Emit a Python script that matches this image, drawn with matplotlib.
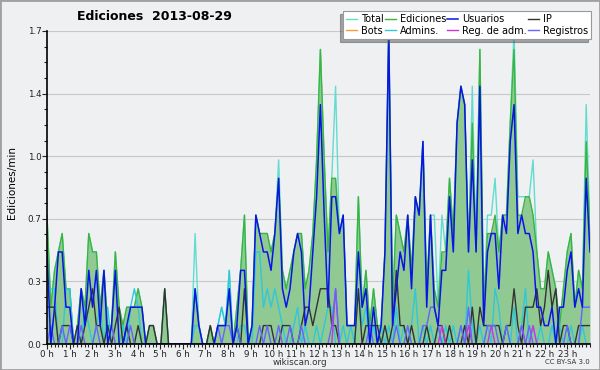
import numpy as np
import matplotlib.pyplot as plt
from matplotlib.patches import Rectangle
from matplotlib.ticker import MultipleLocator

# edits per 10-minute slot, 144 slots (one row per 6 hours)
total = [7,2,4,5,6,3, 3,0,1,3,2,6, 5,5,2,4,1,1, 5,2,1,2,2,2, 3,2,0,1,1,0, 0,3,0,0,0,0,
         0,0,0,6,1,0, 0,1,0,1,2,1, 4,0,2,4,7,0, 1,7,6,6,6,5, 6,10,4,3,4,5, 6,6,3,4,6,10,
         16,10,5,9,14,6, 7,1,1,1,8,2, 4,1,3,1,1,5, 17,2,7,6,5,7, 4,8,7,11,3,7, 7,2,7,5,9,6,
         12,14,13,5,14,5, 16,2,7,7,9,5, 7,7,12,17,8,8, 8,8,10,5,3,3, 5,4,3,1,3,5, 6,2,4,3,13,6]
ediciones = [7,2,4,5,6,3, 3,0,1,3,2,6, 5,5,2,4,1,1, 5,2,1,2,2,2, 3,2,0,1,1,0, 0,3,0,0,0,0,
             0,0,0,3,1,0, 0,1,0,1,1,1, 3,0,2,4,7,0, 1,7,6,6,6,5, 6,9,4,3,4,5, 6,6,3,4,6,10,
             16,10,5,9,9,6, 7,1,1,1,8,2, 4,1,3,1,1,5, 17,2,7,6,5,7, 4,8,7,11,3,7, 3,2,5,5,9,6,
             12,14,13,5,12,5, 16,2,6,6,7,5, 7,7,12,16,7,7, 8,8,7,5,3,3, 5,4,3,1,3,5, 6,2,4,3,11,6]
usuarios = [5,0,2,5,5,2, 2,0,0,3,1,4, 2,4,1,4,0,1, 4,0,0,1,2,2, 2,2,0,0,0,0, 0,0,0,0,0,0,
            0,0,0,3,1,0, 0,0,0,1,1,1, 3,0,1,4,4,0, 1,7,6,5,5,4, 6,9,3,2,3,5, 6,5,1,2,5,8,
            13,7,2,8,8,6, 7,1,1,1,5,2, 3,0,2,0,1,5, 17,1,3,5,4,7, 3,8,7,11,2,7, 2,1,4,4,8,5,
            12,14,13,5,10,5, 14,1,5,6,6,3, 7,6,11,13,6,7, 6,6,5,2,2,1, 1,2,0,2,2,4, 5,2,3,2,9,5]
ip = [2,2,2,0,1,1, 1,0,1,0,1,2, 3,1,1,0,1,0, 1,2,0,1,0,0, 1,0,0,1,1,0, 0,3,0,0,0,0,
      0,0,0,0,0,0, 0,1,0,0,0,0, 0,0,1,0,3,0, 0,0,0,1,1,1, 0,0,1,1,1,0, 0,1,2,2,1,2,
      3,3,3,1,1,0, 0,0,0,0,3,0, 1,1,1,1,0,1, 0,1,4,1,1,0, 1,0,0,0,1,0, 0,1,1,0,1,0,
      0,0,1,0,2,0, 2,1,1,1,1,1, 0,1,1,3,1,0, 2,2,2,3,1,2, 4,2,3,0,1,1, 0,0,1,1,1,1]
bots = [0] * 144
admins = [3,3,3,0,0,3, 3,0,0,0,2,1, 0,1,2,0,2,0, 0,0,1,0,2,3, 2,0,0,0,0,0, 0,0,0,0,0,0,
          0,0,0,1,1,0, 0,0,0,1,2,1, 4,0,0,1,1,0, 0,5,5,2,3,2, 3,2,1,0,0,1, 2,0,1,0,0,1,
          0,1,2,2,0,0, 1,0,1,0,3,1, 2,0,1,0,1,0, 1,0,2,0,1,0, 1,3,0,1,0,1, 0,1,0,1,0,1,
          0,1,0,4,1,0, 1,0,1,0,3,2, 0,1,0,2,0,1, 3,0,1,0,1,0, 0,1,0,1,0,0, 1,0,0,1,0,0]
reg_adm = [0,0,0,0,0,0, 0,0,0,0,0,0, 0,0,0,0,0,0, 0,0,0,0,0,0, 0,0,0,0,0,0, 0,0,0,0,0,0,
           0,0,0,0,0,0, 0,0,0,0,0,0, 0,0,0,0,0,0, 0,0,0,0,0,0, 0,0,0,0,0,0, 0,0,0,0,0,0,
           0,0,0,0,3,0, 0,0,0,0,0,0, 0,0,0,0,0,0, 0,0,0,0,0,0, 0,0,0,0,0,0, 0,0,1,0,0,0,
           0,0,0,1,0,0, 0,0,0,1,0,0, 0,0,0,0,0,1, 0,0,1,0,0,0, 0,0,0,0,0,0, 0,0,0,0,0,0]
registros = [0,1,0,0,1,0, 1,0,0,1,0,0, 0,1,0,0,0,1, 0,0,0,0,1,0, 0,0,0,0,0,0, 0,0,0,0,0,0,
             0,0,0,0,0,0, 0,0,0,1,0,1, 1,0,1,0,0,0, 0,0,1,0,1,0, 0,1,0,0,1,0, 0,1,0,0,0,0,
             0,0,0,1,3,0, 0,0,0,0,0,0, 0,1,0,0,0,0, 0,0,1,0,0,1, 0,0,0,1,1,2, 2,1,0,0,0,0,
             0,1,0,2,0,0, 0,0,1,1,1,0, 0,1,0,0,0,1, 0,1,0,0,0,0, 0,0,0,0,0,1, 0,0,0,2,2,2]

hour_labels = [f"{h} h" for h in range(24)]
ytick_labels = ["0.0", "0.3", "0.7", "1.0", "1.4", "1.7"]

hours = np.linspace(0, 24, 144)
per_min = lambda s: np.array(s) / 10.0

bg = "#eef0f2"
fig = plt.figure(figsize=(6, 3.7), dpi=100)
fig.patch.set_facecolor(bg)
ax = fig.add_axes([47 / 600, 1 - 344 / 370, 543 / 600, 313 / 370])
ax.set_facecolor(bg)

ax.fill_between(hours, per_min(ediciones), color="#91c993", lw=0)
h_total, = ax.plot(hours, per_min(total), color="#62dccf", lw=1)
h_ed, = ax.plot(hours, per_min(ediciones), color="#3cb43c", lw=1)
h_bots, = ax.plot(hours, per_min(bots), color="#ff9933", lw=1)
h_adm, = ax.plot(hours, per_min(admins), color="#2ec8d8", lw=1)
h_ip, = ax.plot(hours, per_min(ip), color="#333333", lw=1)
h_regadm, = ax.plot(hours, per_min(reg_adm), color="#cc33dd", lw=1)
h_reg, = ax.plot(hours, per_min(registros), color="#6464ff", lw=1)
h_us, = ax.plot(hours, per_min(usuarios), color="#0a14e6", lw=1.1)

ax.set_xlim(0, 24)
ax.set_ylim(0, 1.7)
ax.set_yticks(np.arange(6) * 0.34)
ax.set_yticklabels(ytick_labels)
ax.yaxis.set_minor_locator(MultipleLocator(0.085))
ax.set_xticks(range(24))
ax.set_xticklabels(hour_labels)
ax.xaxis.set_minor_locator(MultipleLocator(1 / 6))
ax.tick_params(which="both", direction="out", width=0.8, labelsize=6.3, pad=0.5, colors="#222222")
ax.tick_params(which="major", length=3.5)
ax.tick_params(which="minor", length=2.5)
ax.grid(axis="y", color="#c8c8c8", lw=0.8)
ax.set_axisbelow(True)
for s in ["top", "right"]:
    ax.spines[s].set_visible(False)
for s in ["left", "bottom"]:
    ax.spines[s].set_linewidth(1.2)

fig.text(154 / 600, 1 - 16 / 370, "Ediciones  2013-08-29", ha="center", va="center",
         fontsize=9, fontweight="bold")
fig.text(12 / 600, 1 - 182 / 370, "Ediciones/min", rotation=90, ha="center", va="center",
         fontsize=7.5)
fig.text(0.5, 1 - 362.5 / 370, "wikiscan.org", ha="center", va="center", fontsize=6.3, color="#333333")
fig.text(590 / 600, 1 - 362.5 / 370, "CC BY-SA 3.0", ha="right", va="center", fontsize=5, color="#333333")

handles = [h_total, h_bots, h_ed, h_adm, h_us, h_regadm, h_ip, h_reg]
labels = ["Total", "Bots", "Ediciones", "Admins.", "Usuarios", "Reg. de adm.", "IP", "Registros"]
leg = fig.legend(handles, labels, ncol=4, loc="upper right", bbox_to_anchor=(591 / 600, 1 - 11 / 370),
                 fontsize=7, frameon=True, fancybox=False,
                 shadow={"ox": -2.2, "oy": -2.2, "color": "#555555"},
                 handlelength=1.1, handletextpad=0.45, columnspacing=0.1, labelspacing=0.2,
                 borderpad=0.3, borderaxespad=0)
leg.get_frame().set_edgecolor("#999999")
leg.get_frame().set_linewidth(0.8)

fig.add_artist(Rectangle((0, 0), 1, 1, transform=fig.transFigure, fill=False,
                         edgecolor="#a0a0a0", lw=2))

fig.savefig("out.png", dpi=100, facecolor=bg)
